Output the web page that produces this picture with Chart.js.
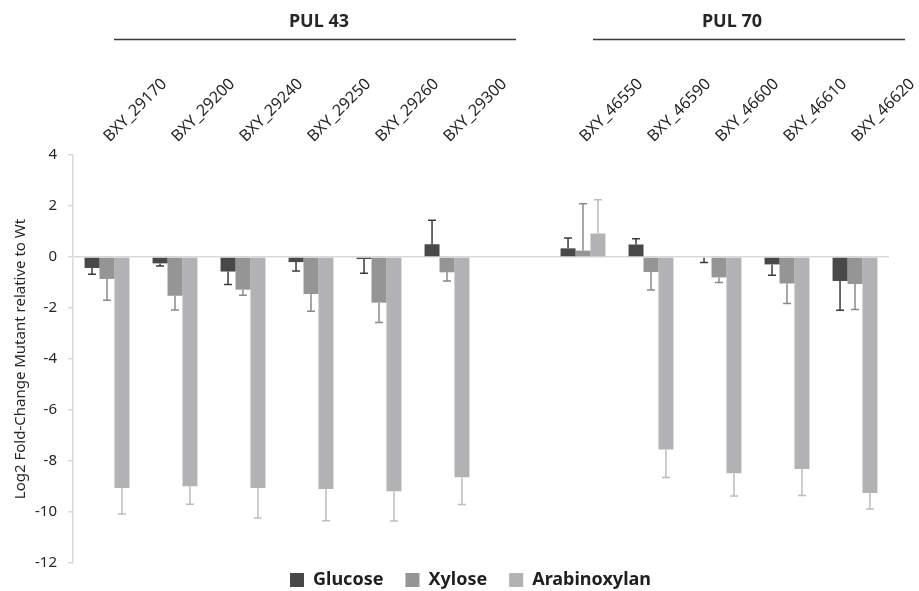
<!DOCTYPE html>
<html>
<head>
<meta charset="utf-8">
<title>Log2 fold-change chart</title>
<script src="https://cdn.jsdelivr.net/npm/chart.js@4.4.1/dist/chart.umd.min.js"></script>
<style>
  html, body { margin: 0; padding: 0; background: #fff; }
  #wrap { width: 919px; height: 591px; }
</style>
</head>
<body>
<div id="wrap"><canvas id="myChart" width="919" height="591"></canvas></div>
<script>
// categories (empty slot separates the two PULs)
const categories = ['BXY_29170', 'BXY_29200', 'BXY_29240', 'BXY_29250', 'BXY_29260', 'BXY_29300', '',
  'BXY_46550', 'BXY_46590', 'BXY_46600', 'BXY_46610', 'BXY_46620'];

// series values
const glucose = [-0.43, -0.25, -0.57, -0.20, -0.08, 0.50, null, 0.34, 0.49, -0.03, -0.29, -0.94];
const glucoseErr = [0.25, 0.10, 0.51, 0.35, 0.56, 0.94, null, 0.41, 0.23, 0.19, 0.43, 1.15];
const xylose = [-0.86, -1.52, -1.28, -1.45, -1.79, -0.60, null, 0.25, -0.59, -0.80, -1.04, -1.06];
const xyloseErr = [0.84, 0.56, 0.22, 0.68, 0.78, 0.34, null, 1.84, 0.70, 0.20, 0.78, 1.00];
const arabinoxylan = [-9.06, -8.99, -9.06, -9.10, -9.19, -8.64, null, 0.92, -7.55, -8.48, -8.31, -9.25];
const arabinoxylanErr = [1.02, 0.71, 1.18, 1.24, 1.16, 1.07, null, 1.33, 1.10, 0.89, 1.04, 0.63];

// y axis ticks
const yTicks = [4, 2, 0, -2, -4, -6, -8, -10, -12];

// group headers over the categories
const groupLabels = ['PUL 43', 'PUL 70'];
const groupStart = [0, 7];
const groupEnd = [5, 11];

const FONT = "'Noto Sans', 'DejaVu Sans', sans-serif";
const AXIS_GREY = '#d9d9d9';
const LEGEND_FONT = 18;
const LEGEND_GAP = 22;

// draws one-sided error bars away from zero
const errorBarPlugin = {
  id: 'errorBars',
  afterDatasetsDraw(chart) {
    const ctx = chart.ctx;
    const y = chart.scales.y;
    chart.data.datasets.forEach((ds, i) => {
      const meta = chart.getDatasetMeta(i);
      meta.data.forEach((bar, j) => {
        const v = ds.data[j];
        const e = ds.errors[j];
        if (v == null || e == null) return;
        const end = v >= 0 ? v + e : v - e;
        const y0 = y.getPixelForValue(v);
        const y1 = y.getPixelForValue(end);
        ctx.save();
        ctx.strokeStyle = ds.errorColor;
        ctx.lineWidth = 1.5;
        ctx.beginPath();
        ctx.moveTo(bar.x, y0);
        ctx.lineTo(bar.x, y1);
        ctx.moveTo(bar.x - 4, y1);
        ctx.lineTo(bar.x + 4, y1);
        ctx.stroke();
        ctx.restore();
      });
    });
  }
};

// PUL headers with an underline; offsets nudge them toward the slanted labels
const groupHeaderPlugin = {
  id: 'groupHeaders',
  afterDraw(chart, args, opts) {
    const ctx = chart.ctx;
    const x = chart.scales.x;
    ctx.save();
    groupLabels.forEach((label, i) => {
      const x0 = x.getPixelForValue(groupStart[i]) + opts.lineStart[i];
      const x1 = x.getPixelForValue(groupEnd[i]) + opts.lineEnd[i];
      ctx.strokeStyle = '#3a3a3a';
      ctx.lineWidth = 1.5;
      ctx.beginPath();
      ctx.moveTo(x0, 39.5);
      ctx.lineTo(x1, 39.5);
      ctx.stroke();
      const mid = (x.getPixelForValue(groupStart[i]) + x.getPixelForValue(groupEnd[i])) / 2;
      ctx.fillStyle = '#262626';
      ctx.font = 'bold 18px ' + FONT;
      ctx.textAlign = 'center';
      ctx.textBaseline = 'middle';
      ctx.fillText(label, mid + opts.textShift[i], 22);
    });
    ctx.restore();
  }
};

// keeps the legend low and slightly right, like the original
const legendPlacePlugin = {
  id: 'legendPlace',
  afterLayout(chart) {
    const lg = chart.legend;
    if (!lg) return;
    lg.top = 580 - LEGEND_GAP - LEGEND_FONT / 2;
    lg.bottom = chart.height;
    lg.height = lg.bottom - lg.top;
    lg.left += 26;
    lg.right += 26;
  }
};

const chartConfig = {
  type: 'bar',
  data: {
    labels: categories,
    datasets: [
      { label: 'Glucose', data: glucose, errors: glucoseErr, backgroundColor: '#484848', errorColor: '#3c3c3c' },
      { label: 'Xylose', data: xylose, errors: xyloseErr, backgroundColor: '#959595', errorColor: '#8a8a8a' },
      { label: 'Arabinoxylan', data: arabinoxylan, errors: arabinoxylanErr, backgroundColor: '#b2b2b4', errorColor: '#bdbdbd' }
    ]
  },
  options: {
    responsive: false,
    devicePixelRatio: 1,
    animation: false,
    layout: { padding: { top: 0, left: 0, right: 30, bottom: 0 } },
    datasets: { bar: { categoryPercentage: 0.66, barPercentage: 1.0, borderWidth: 0 } },
    scales: {
      x: {
        position: 'top',
        offset: true,
        grid: { display: false },
        border: { display: false },
        ticks: {
          autoSkip: false, minRotation: 45, maxRotation: 45, padding: 1, labelOffset: 13,
          color: '#262626', font: { family: FONT, size: 16 }
        },
        afterFit(scale) { scale.height = 155; }
      },
      y: {
        min: -12,
        max: 4,
        afterBuildTicks(scale) { scale.ticks = yTicks.map(v => ({ value: v })); },
        border: { display: true, color: AXIS_GREY, width: 1.5 },
        grid: {
          drawOnChartArea: true,
          drawTicks: true,
          tickLength: 5,
          tickColor: AXIS_GREY,
          lineWidth: 1.5,
          color: c => (c.tick && c.tick.value === 0 ? AXIS_GREY : 'rgba(0,0,0,0)')
        },
        ticks: { padding: 11, color: '#262626', font: { family: FONT, size: 15 } },
        title: {
          display: true,
          text: 'Log2 Fold-Change Mutant relative to Wt',
          color: '#262626',
          font: { family: FONT, size: 15 },
          padding: { top: 12, bottom: 0 }
        },
        afterFit(scale) { scale.width = 73; }
      }
    },
    plugins: {
      legend: {
        position: 'bottom',
        maxHeight: 28,
        labels: {
          boxWidth: 14, boxHeight: 14, padding: LEGEND_GAP,
          color: '#1f1f1f', font: { family: FONT, size: LEGEND_FONT, weight: 'bold' }
        }
      },
      groupHeaders: { lineStart: [7, 10], lineEnd: [69, 50], textShift: [42, 13] },
      tooltip: { enabled: false }
    }
  },
  plugins: [errorBarPlugin, groupHeaderPlugin, legendPlacePlugin]
};

new Chart(document.getElementById('myChart'), chartConfig);
</script>
</body>
</html>
